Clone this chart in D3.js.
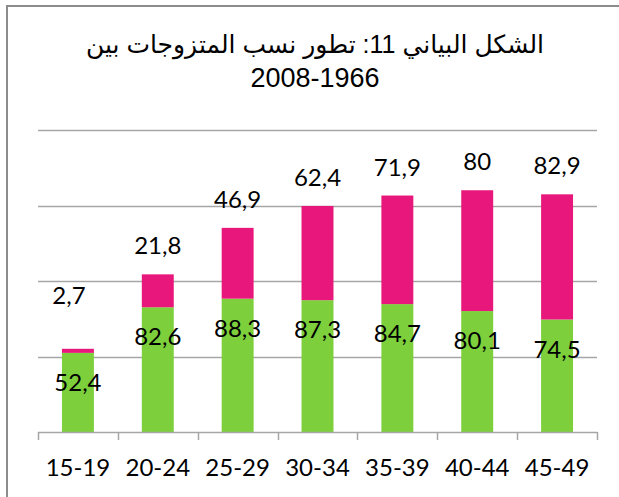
<!DOCTYPE html>
<html>
<head>
<meta charset="utf-8">
<script src="https://cdn.jsdelivr.net/npm/d3@7"></script>
<style>
  body { margin: 0; background: #fff; }
</style>
</head>
<body>
<script>
const width = 619,
  height = 497;

// plot area
const plot = { left: 38, right: 597, top: 130, bottom: 432 };

// data
const ageGroups = ["15-19", "20-24", "25-29", "30-34", "35-39", "40-44", "45-49"];
const greenValues = [52.4, 82.6, 88.3, 87.3, 84.7, 80.1, 74.5];
const pinkValues = [2.7, 21.8, 46.9, 62.4, 71.9, 80, 82.9];
const titleLines = ["الشكل البياني 11: تطور نسب المتزوجات بين", "2008-1966"];

const green = "#7dcf3c",
  pink = "#e8177b",
  gridColor = "#a6a6a6";

const fmt = v => String(v).replace(".", ",");

const data = ageGroups.map((g, i) => ({
  group: g,
  green: greenValues[i],
  pink: pinkValues[i]
}));

const stack = d3.stack().keys(["green", "pink"])(data);

const xScale = d3
  .scaleBand()
  .domain(ageGroups)
  .range([plot.left, plot.right])
  .paddingInner(0.6)
  .paddingOuter(0.3);

const yScale = d3
  .scaleLinear()
  .domain([0, 200])
  .range([plot.bottom, plot.top]);

const svg = d3
  .select("body")
  .append("svg")
  .attr("width", width)
  .attr("height", height);

// chart border (only left and top visible in the crop)
svg
  .append("path")
  .attr("d", `M7,${height} L7,6 L${width},6`)
  .attr("fill", "none")
  .attr("stroke", "#8c8c8c")
  .attr("stroke-width", 2);

// title
svg
  .append("g")
  .selectAll("text")
  .data(titleLines)
  .enter()
  .append("text")
  .attr("x", 315)
  .attr("y", (d, i) => 53 + i * 34)
  .attr("text-anchor", "middle")
  .attr("direction", (d, i) => (i === 0 ? "rtl" : "ltr"))
  .attr("font-family", "'Liberation Sans', Arial, 'DejaVu Sans', sans-serif")
  .attr("font-size", (d, i) => (i === 0 ? 25 : 27))
  .attr("fill", "#000")
  .text(d => d);

// gridlines
svg
  .append("g")
  .selectAll("line")
  .data(yScale.ticks(4).filter(d => d > 0))
  .enter()
  .append("line")
  .attr("x1", plot.left)
  .attr("x2", plot.right)
  .attr("y1", d => Math.round(yScale(d)) + 0.5)
  .attr("y2", d => Math.round(yScale(d)) + 0.5)
  .attr("stroke", gridColor)
  .attr("stroke-width", 1.5);

// bars
const layers = svg
  .append("g")
  .selectAll("g")
  .data(stack)
  .enter()
  .append("g")
  .attr("fill", d => (d.key === "green" ? green : pink));

layers
  .selectAll("rect")
  .data(d => d)
  .enter()
  .append("rect")
  .attr("x", d => xScale(d.data.group))
  .attr("width", xScale.bandwidth())
  .attr("y", d => yScale(d[1]))
  .attr("height", d => yScale(d[0]) - yScale(d[1]));

// x axis line and ticks at category boundaries
const step = xScale.step();
const axisG = svg.append("g");
axisG
  .append("line")
  .attr("x1", plot.left)
  .attr("x2", plot.right)
  .attr("y1", plot.bottom + 0.5)
  .attr("y2", plot.bottom + 0.5)
  .attr("stroke", gridColor)
  .attr("stroke-width", 1.5);
axisG
  .selectAll(".tick-mark")
  .data(d3.range(ageGroups.length + 1))
  .enter()
  .append("line")
  .attr("class", "tick-mark")
  .attr("x1", i => Math.round(plot.left + i * step) + 0.5)
  .attr("x2", i => Math.round(plot.left + i * step) + 0.5)
  .attr("y1", plot.bottom)
  .attr("y2", plot.bottom + 8)
  .attr("stroke", gridColor)
  .attr("stroke-width", 1.5);

const xAxis = d3.axisBottom(xScale).tickSize(0).tickPadding(27);
svg
  .append("g")
  .attr("transform", `translate(0,${plot.bottom})`)
  .call(xAxis)
  .call(g => g.select(".domain").remove())
  .selectAll("text")
  .attr("font-family", "Lato, 'Open Sans', sans-serif")
  .attr("font-size", 24)
  .attr("fill", "#000");

// labels
const labelFont = "Lato, 'Open Sans', sans-serif";

// green labels sit inside the top of the green segment
svg
  .append("g")
  .selectAll("text")
  .data(stack[0])
  .enter()
  .append("text")
  .attr("x", d => xScale(d.data.group) + xScale.bandwidth() / 2)
  .attr("y", d => yScale(d[1]) + 38)
  .attr("text-anchor", "middle")
  .attr("font-family", labelFont)
  .attr("font-size", 24)
  .attr("fill", "#000")
  .text(d => fmt(d.data.green));

// pink labels above the bars; the first one was dragged away in the original
const pinkNudge = { "15-19": [-9, -25] };
svg
  .append("g")
  .selectAll("text")
  .data(stack[1])
  .enter()
  .append("text")
  .attr("x", d => xScale(d.data.group) + xScale.bandwidth() / 2 + (pinkNudge[d.data.group] || [0, 0])[0])
  .attr("y", d => yScale(d[1]) - 20 + (pinkNudge[d.data.group] || [0, 0])[1])
  .attr("text-anchor", "middle")
  .attr("font-family", labelFont)
  .attr("font-size", 24)
  .attr("fill", "#000")
  .text(d => fmt(d.data.pink));
</script>
</body>
</html>
